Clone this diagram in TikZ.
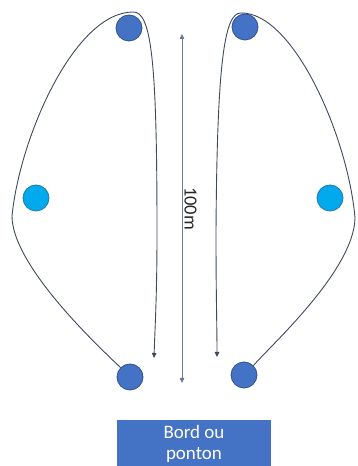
\documentclass[tikz,border=0pt]{standalone}
\usepackage{fontspec}
\setmainfont{Carlito}
\usetikzlibrary{arrows.meta}
\definecolor{buoyblue}{RGB}{68,114,196}
\definecolor{buoyedge}{RGB}{47,82,143}
\definecolor{sidefill}{RGB}{0,170,236}
\definecolor{sideedge}{RGB}{35,120,170}
\definecolor{courseline}{RGB}{62,72,94}
\definecolor{scaleline}{RGB}{105,118,148}

\begin{document}
\begin{tikzpicture}[x=1pt,y=1pt,>={Triangle[length=5pt,width=4.5pt]},
  buoy/.style={circle,fill=buoyblue,draw=buoyedge,line width=0.8pt,minimum size=26pt,inner sep=0pt},
  sidebuoy/.style={circle,fill=sidefill,draw=sideedge,line width=0.8pt,minimum size=26pt,inner sep=0pt},
  course/.style={draw=courseline,line width=0.9pt}]
  \useasboundingbox (0,0) rectangle (357,466);
  \clip (0,0) rectangle (357,466);
  \node[buoy] (tl) at (129,438) {};
  \node[buoy] (tr) at (245,439) {};
  \node[sidebuoy] (ml) at (36,268) {};
  \node[sidebuoy] (mr) at (330,268) {};
  \node[buoy] (bl) at (130,89) {};
  \node[buoy] (br) at (244,91) {};
  \node[fill=buoyblue,text=white,minimum width=154pt,minimum height=47pt,anchor=north,
    align=center,inner ysep=2pt,font=\fontsize{19}{21}\selectfont] (quay) at (194,46) {Bord ou\\ponton};
  \coordinate (lw) at (12,250); \coordinate (lt) at (133,454); \coordinate (la) at (154,108);
  \coordinate (rw) at (355,248); \coordinate (rt) at (241,453); \coordinate (ra) at (217,109);
  \coordinate (st) at (182,432); \coordinate (sb) at (182,83);
  \draw[course,->] (bl.135) .. controls (100,118) and (12,200) .. (lw)
    .. controls (20,330) and (75,454) .. (lt)
    .. controls (152,455) and (157,400) .. (157,233)
    .. controls (157,170) and (155,140) .. (la);
  \draw[course,->] (br.45) .. controls (268,118) and (354,195) .. (rw)
    .. controls (348,330) and (293,454) .. (rt)
    .. controls (224,454) and (217,400) .. (216,233)
    .. controls (216,170) and (217,140) .. (ra);
  \draw[<->,scaleline,line width=0.8pt] (st) -- (sb)
    node[midway,rotate=-90,anchor=south,inner sep=2pt,text=black!85,
      font=\fontsize{18.5}{20}\selectfont] (len) {100m};
\end{tikzpicture}
\end{document}
